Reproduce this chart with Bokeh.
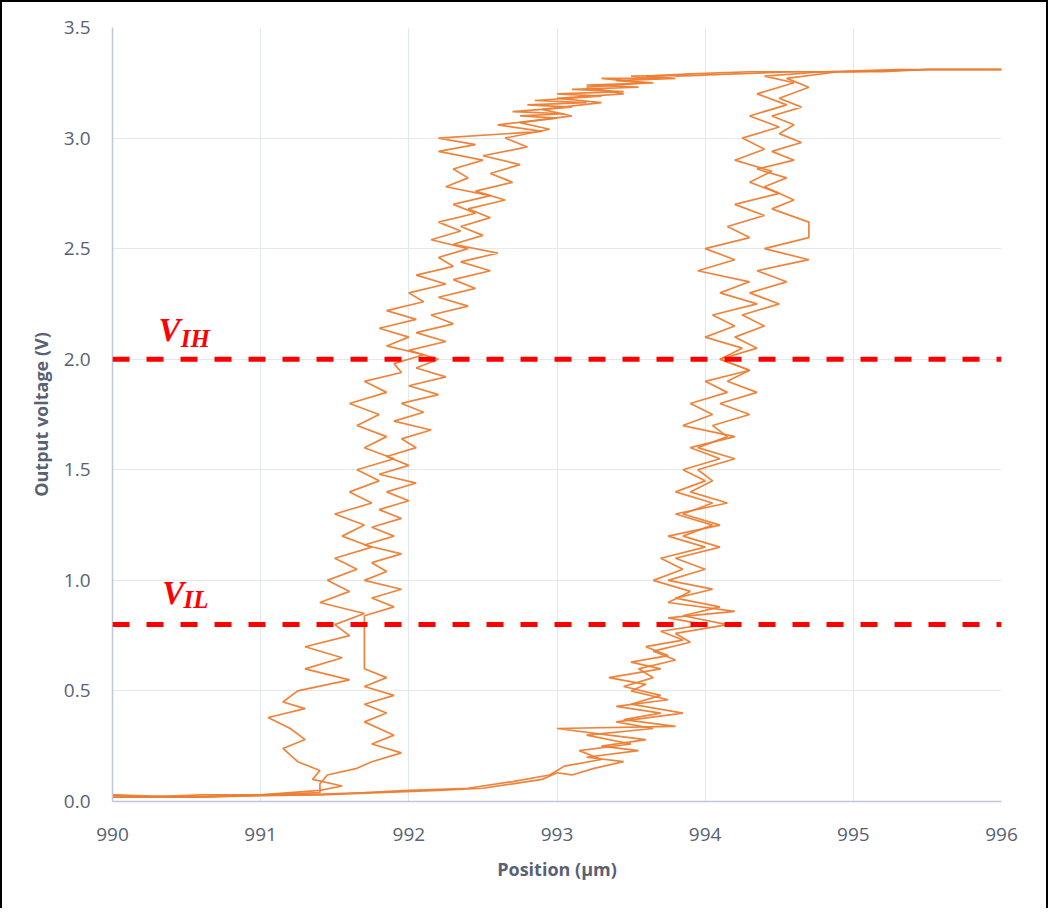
from bokeh.plotting import figure
from bokeh.models import Span, Range1d, FixedTicker, CustomJSTickFormatter
from bokeh.core.properties import value
from bokeh.embed import file_html
from bokeh.resources import INLINE

# ---------------- data ----------------
x_ticks = [990, 991, 992, 993, 994, 995, 996]
y_ticks = [0.0, 0.5, 1.0, 1.5, 2.0, 2.5, 3.0, 3.5]
v_ih = 2.0
v_il = 0.8

# (position um, output voltage V) — rising sweep, cycle 1
up1 = [(990.0, 0.02), (990.6, 0.02), (991.0, 0.03), (991.4, 0.03), (991.8, 0.04), (992.2, 0.05),
       (992.5, 0.06), (992.7, 0.08), (992.9, 0.10), (993.0, 0.13), (993.1, 0.12), (993.25, 0.15),
       (993.45, 0.18), (993.2, 0.20), (993.55, 0.23), (993.3, 0.25), (993.6, 0.28), (993.35, 0.30),
       (993.0, 0.33), (993.8, 0.34), (993.45, 0.37), (993.7, 0.40), (993.4, 0.43), (993.75, 0.46),
       (993.5, 0.50), (993.6, 0.53), (993.35, 0.56), (993.7, 0.60), (993.5, 0.63), (993.75, 0.66),
       (993.6, 0.70), (993.85, 0.73), (993.7, 0.77), (994.0, 0.80), (993.75, 0.83), (994.2, 0.86),
       (993.75, 0.90), (993.9, 0.95), (993.65, 1.00), (993.85, 1.05), (993.7, 1.10), (994.0, 1.15),
       (993.75, 1.20), (994.1, 1.25), (993.85, 1.30), (994.05, 1.35), (993.8, 1.40), (994.0, 1.45),
       (993.85, 1.50), (994.1, 1.55), (993.9, 1.60), (994.2, 1.65), (993.85, 1.70), (994.05, 1.75),
       (993.9, 1.80), (994.15, 1.85), (994.0, 1.90), (994.3, 1.95), (994.1, 2.00), (994.25, 2.05),
       (994.0, 2.10), (994.2, 2.15), (994.05, 2.20), (994.35, 2.25), (994.1, 2.30), (994.3, 2.35),
       (993.95, 2.40), (994.2, 2.45), (994.0, 2.50), (994.3, 2.55), (994.15, 2.60), (994.4, 2.65),
       (994.2, 2.70), (994.5, 2.75), (994.3, 2.80), (994.45, 2.85), (994.2, 2.90), (994.4, 2.95),
       (994.25, 3.00), (994.5, 3.05), (994.3, 3.10), (994.55, 3.15), (994.35, 3.20), (994.6, 3.25),
       (994.4, 3.28), (994.8, 3.30), (995.2, 3.30), (995.5, 3.31), (996.0, 3.31)]

# falling sweep, cycle 1
down1 = [(996.0, 3.31), (995.3, 3.31), (994.8, 3.30), (994.3, 3.30), (993.9, 3.29), (993.6, 3.28),
         (993.8, 3.27), (993.4, 3.26), (993.65, 3.25), (993.2, 3.24), (993.55, 3.23), (993.1, 3.22),
         (993.45, 3.21), (993.0, 3.20), (993.3, 3.19), (992.85, 3.17), (993.2, 3.16), (992.8, 3.15),
         (993.1, 3.14), (992.7, 3.12), (993.05, 3.11), (992.75, 3.10), (993.0, 3.09), (992.6, 3.06),
         (992.9, 3.03), (992.2, 3.00), (992.45, 2.97), (992.2, 2.94), (992.5, 2.90), (992.3, 2.86),
         (992.4, 2.82), (992.25, 2.78), (992.55, 2.74), (992.3, 2.70), (992.45, 2.66), (992.2, 2.62),
         (992.35, 2.58), (992.15, 2.54), (992.4, 2.50), (992.2, 2.46), (992.3, 2.42), (992.05, 2.38),
         (992.25, 2.34), (992.0, 2.30), (992.1, 2.26), (991.85, 2.22), (992.05, 2.18), (991.8, 2.14),
         (992.0, 2.10), (991.85, 2.06), (992.1, 2.02), (991.9, 1.98), (991.95, 1.94), (991.7, 1.90),
         (991.85, 1.85), (991.6, 1.80), (991.8, 1.75), (991.65, 1.70), (991.85, 1.65), (991.7, 1.60),
         (991.9, 1.55), (991.65, 1.50), (991.8, 1.45), (991.6, 1.40), (991.75, 1.35), (991.5, 1.30),
         (991.7, 1.25), (991.55, 1.20), (991.75, 1.15), (991.5, 1.10), (991.65, 1.05), (991.45, 1.00),
         (991.6, 0.95), (991.4, 0.90), (991.7, 0.85), (991.5, 0.80), (991.6, 0.75), (991.3, 0.70),
         (991.55, 0.65), (991.3, 0.60), (991.6, 0.55), (991.25, 0.50), (991.15, 0.45), (991.3, 0.42),
         (991.05, 0.38), (991.2, 0.33), (991.3, 0.28), (991.15, 0.24), (991.25, 0.18), (991.4, 0.14),
         (991.35, 0.10), (991.55, 0.07), (991.4, 0.05), (991.0, 0.03), (990.6, 0.03), (990.2, 0.02),
         (990.0, 0.03)]

# rising sweep, cycle 2
up2 = [(990.0, 0.03), (990.5, 0.02), (991.3, 0.03), (991.7, 0.04), (992.0, 0.05), (992.4, 0.06),
       (992.7, 0.09), (992.95, 0.12), (993.05, 0.16), (993.3, 0.19), (993.15, 0.23), (993.5, 0.26),
       (993.2, 0.30), (993.65, 0.33), (993.4, 0.36), (993.85, 0.40), (993.5, 0.44), (993.7, 0.48),
       (993.45, 0.52), (993.65, 0.56), (993.55, 0.60), (993.8, 0.64), (993.65, 0.68), (993.9, 0.72),
       (993.8, 0.76), (994.15, 0.80), (993.85, 0.84), (994.1, 0.88), (993.8, 0.92), (994.05, 0.96),
       (993.75, 1.00), (994.0, 1.05), (993.8, 1.10), (994.1, 1.15), (993.85, 1.20), (994.05, 1.25),
       (993.8, 1.30), (994.15, 1.35), (993.9, 1.40), (994.05, 1.45), (993.95, 1.50), (994.2, 1.55),
       (993.95, 1.60), (994.15, 1.65), (994.05, 1.70), (994.3, 1.75), (994.1, 1.80), (994.35, 1.85),
       (994.15, 1.90), (994.3, 1.95), (994.1, 2.00), (994.35, 2.05), (994.2, 2.10), (994.4, 2.15),
       (994.25, 2.20), (994.5, 2.25), (994.3, 2.30), (994.55, 2.35), (994.35, 2.40), (994.7, 2.45),
       (994.4, 2.50), (994.7, 2.55), (994.7, 2.62), (994.45, 2.68), (994.6, 2.72), (994.4, 2.78),
       (994.55, 2.82), (994.35, 2.86), (994.6, 2.90), (994.45, 2.94), (994.65, 2.98), (994.5, 3.02),
       (994.6, 3.06), (994.45, 3.10), (994.65, 3.14), (994.5, 3.18), (994.7, 3.23), (994.55, 3.27),
       (994.9, 3.30), (995.5, 3.31), (996.0, 3.31)]

# falling sweep, cycle 2
down2 = [(996.0, 3.31), (995.5, 3.31), (995.0, 3.30), (994.6, 3.30), (994.2, 3.29), (993.8, 3.28),
         (994.0, 3.285), (993.5, 3.28), (993.7, 3.27), (993.3, 3.27), (993.6, 3.25), (993.2, 3.23),
         (993.45, 3.20), (993.0, 3.18), (993.3, 3.16), (992.9, 3.13), (993.1, 3.10), (992.75, 3.07),
         (992.95, 3.04), (992.65, 3.00), (992.8, 2.96), (992.5, 2.92), (992.75, 2.88), (992.55, 2.84),
         (992.7, 2.80), (992.45, 2.76), (992.65, 2.72), (992.4, 2.68), (992.55, 2.64), (992.35, 2.60),
         (992.5, 2.56), (992.3, 2.52), (992.6, 2.48), (992.35, 2.44), (992.55, 2.40), (992.3, 2.36),
         (992.45, 2.32), (992.2, 2.28), (992.4, 2.24), (992.15, 2.20), (992.3, 2.16), (992.05, 2.12),
         (992.25, 2.08), (992.0, 2.04), (992.2, 2.00), (992.05, 1.96), (992.25, 1.92), (992.0, 1.88),
         (992.2, 1.84), (991.95, 1.80), (992.1, 1.76), (991.9, 1.72), (992.15, 1.68), (991.95, 1.64),
         (992.05, 1.60), (991.85, 1.56), (992.0, 1.52), (991.8, 1.48), (992.05, 1.44), (991.85, 1.40),
         (992.0, 1.36), (991.8, 1.32), (991.95, 1.28), (991.75, 1.24), (991.9, 1.20), (991.7, 1.16),
         (991.95, 1.12), (991.75, 1.08), (991.85, 1.04), (991.7, 1.00), (991.95, 0.96), (991.75, 0.92),
         (991.9, 0.88), (991.7, 0.84), (991.7, 0.60), (991.85, 0.56), (991.7, 0.52), (991.9, 0.48),
         (991.7, 0.44), (991.85, 0.40), (991.7, 0.36), (991.9, 0.30), (991.75, 0.26), (991.95, 0.22),
         (991.75, 0.18), (991.65, 0.15), (991.45, 0.12), (991.4, 0.08), (991.4, 0.04), (991.0, 0.03),
         (990.5, 0.02), (990.0, 0.02)]

sweeps = [up1, down1, up2, down2]

# ---------------- figure ----------------
ORANGE = "#ED7D31"
TXT = "#586273"
GRID = "#E3E7EE"
FONT = "Open Sans"

p = figure(frame_width=889, frame_height=774,
           min_border_left=110, min_border_right=45, min_border_top=25, min_border_bottom=107,
           x_range=Range1d(990, 996), y_range=Range1d(0, 3.5),
           output_backend="svg", toolbar_location=None,
           styles={"border-left": "2px solid black", "border-top": "2px solid black",
                   "border-right": "2px solid black"})
p.outline_line_color = None
p.background_fill_color = "white"
p.border_fill_color = "white"

for sw in sweeps:
    xs = [a for a, b in sw]
    ys = [b for a, b in sw]
    p.line(xs, ys, line_color=ORANGE, line_width=1.7, line_alpha=0.95)

for lvl in (v_ih, v_il):
    p.add_layout(Span(location=lvl, dimension="width", line_color="#FF0000",
                      line_width=5, line_dash="17 17"))

SERIF = value("Liberation Serif")
p.text(x=[990.31], y=[2.13], text=["V"], text_color="#FF0000", text_font=SERIF,
       text_font_size="33px", text_font_style="bold italic", text_baseline="alphabetic")
p.text(x=[990.46], y=[2.095], text=["IH"], text_color="#FF0000", text_font=SERIF,
       text_font_size="25px", text_font_style="bold italic", text_baseline="alphabetic")
p.text(x=[990.335], y=[0.945], text=["V"], text_color="#FF0000", text_font=SERIF,
       text_font_size="33px", text_font_style="bold italic", text_baseline="alphabetic")
p.text(x=[990.48], y=[0.912], text=["IL"], text_color="#FF0000", text_font=SERIF,
       text_font_size="25px", text_font_style="bold italic", text_baseline="alphabetic")

p.xaxis.ticker = FixedTicker(ticks=x_ticks)
p.yaxis.ticker = FixedTicker(ticks=y_ticks)
p.yaxis.formatter = CustomJSTickFormatter(code="return tick.toFixed(1);")
p.xaxis.formatter = CustomJSTickFormatter(code="return tick.toFixed(0);")

p.xgrid.ticker = FixedTicker(ticks=x_ticks)
p.ygrid.ticker = FixedTicker(ticks=y_ticks)
p.grid.grid_line_color = GRID
p.grid.grid_line_width = 1

for ax in (p.xaxis, p.yaxis):
    ax.axis_line_color = "#BFC7D5"
    ax.axis_line_width = 1.5
    ax.major_tick_line_color = None
    ax.minor_tick_line_color = None
    ax.major_tick_out = 0
    ax.major_tick_in = 0
    ax.major_label_text_font = FONT
    ax.major_label_text_font_size = "19px"
    ax.major_label_text_color = TXT
    ax.axis_label_text_font = FONT
    ax.axis_label_text_font_size = "18px"
    ax.axis_label_text_font_style = "bold"
    ax.axis_label_text_color = TXT

p.xaxis.axis_label = "Position (µm)"
p.yaxis.axis_label = "Output voltage (V)"
p.yaxis.major_label_standoff = 22
p.xaxis.major_label_standoff = 26
p.yaxis.axis_label_standoff = 8
p.xaxis.axis_label_standoff = 13

open("out.html", "w").write(file_html(p, INLINE))
